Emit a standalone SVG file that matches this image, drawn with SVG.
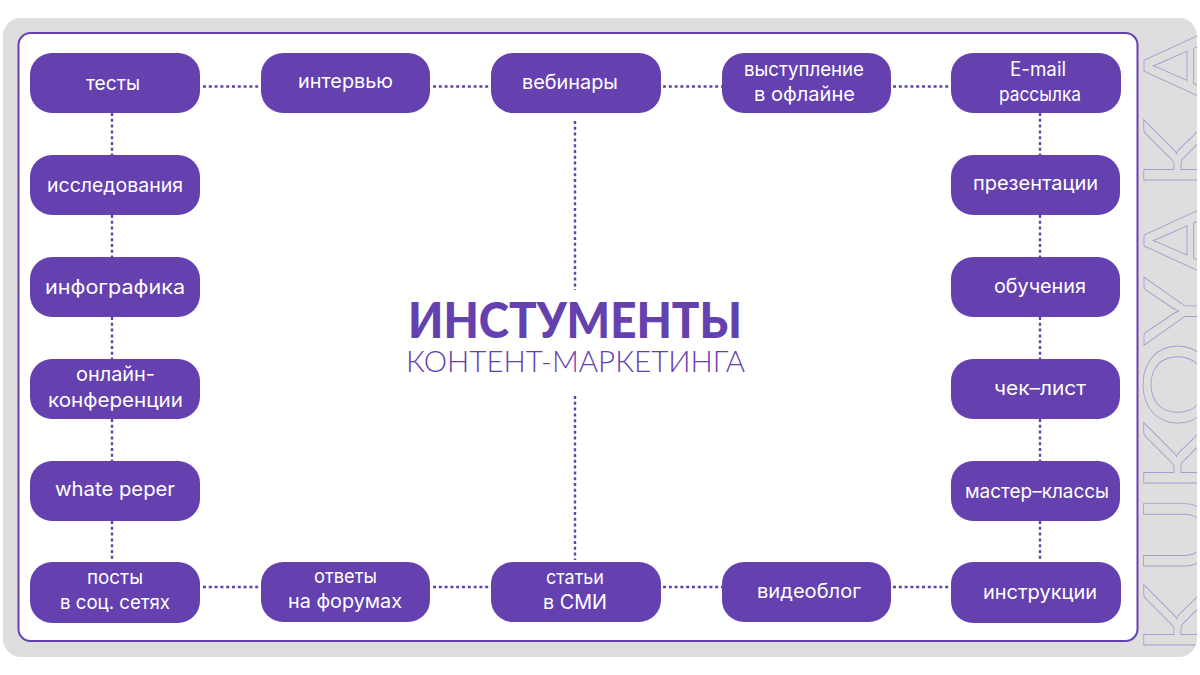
<svg xmlns="http://www.w3.org/2000/svg" width="1200" height="675" viewBox="0 0 1200 675">
<style>
.n{fill:#6441ae}
.t{font-family:"Inter","Noto Sans",sans-serif;font-size:19.500px;fill:#fff;text-anchor:middle;transform:translateY(0.7px)}
.c{fill:none;stroke:#6441ae;stroke-width:2.400;stroke-dasharray:3 2.800}
</style>
<defs><clipPath id="cp"><rect x="3" y="18" width="1194" height="639" rx="18"/></clipPath></defs>
<rect width="1200" height="675" fill="#fff"/>
<g id="panel">
<rect x="3" y="18" width="1194" height="639" rx="18" fill="#dedede"/>
<g clip-path="url(#cp)"><text transform="translate(1212 657) rotate(-90) scale(1.15 1)" x="1.700 71.300 142.600 199 271 330 406 482" y="0" font-family="Lato,sans-serif" font-weight="400" font-size="95" fill="none" stroke="#a99ad0" stroke-width="0.8">KUKOYAKA</text></g>
<rect x="18.500" y="33" width="1119" height="608" rx="12" fill="#fff" stroke="#6441ae" stroke-width="2"/>
</g>
<g id="connectors">
<path class="c" d="M203 86.500H261M433 86.500H491M663 86.500H722M893 86.500H951M203 587H261M433 587H491M663 587H722M893 587H951"/>
<path class="c" d="M112 113V155M112 215V257M112 317V359M112 419V461M112 521V561M1040 113V155M1040 215V257M1040 317V359M1040 419V461M1040 521V561M575 121V290M575 396V560"/>
</g>
<g id="n1"><rect class="n" x="30" y="53" width="170" height="60" rx="22"/><text class="t" x="113" y="89" textLength="54" lengthAdjust="spacingAndGlyphs">тесты</text></g>
<g id="n2"><rect class="n" x="261" y="53" width="169" height="60" rx="22"/><text class="t" x="345.500" y="87" textLength="95" lengthAdjust="spacingAndGlyphs">интервью</text></g>
<g id="n3"><rect class="n" x="491" y="53" width="170" height="60" rx="22"/><text class="t" x="570" y="88" textLength="96" lengthAdjust="spacingAndGlyphs">вебинары</text></g>
<g id="n4"><rect class="n" x="722" y="53" width="169" height="60" rx="22"/><text class="t" x="804" y="75" textLength="120" lengthAdjust="spacingAndGlyphs">выступление</text><text class="t" x="804.500" y="100" textLength="101" lengthAdjust="spacingAndGlyphs">в офлайне</text></g>
<g id="n5"><rect class="n" x="951" y="53" width="170" height="60" rx="22"/><text class="t" x="1038" y="75" textLength="56" lengthAdjust="spacingAndGlyphs">E-mail</text><text class="t" x="1040" y="100" textLength="82" lengthAdjust="spacingAndGlyphs">рассылка</text></g>
<g id="n6"><rect class="n" x="30" y="155" width="170" height="60" rx="22"/><text class="t" x="115" y="191" textLength="136" lengthAdjust="spacingAndGlyphs">исследования</text></g>
<g id="n7"><rect class="n" x="951" y="155" width="169" height="60" rx="22"/><text class="t" x="1035.500" y="189" textLength="125" lengthAdjust="spacingAndGlyphs">презентации</text></g>
<g id="n8"><rect class="n" x="30" y="257" width="170" height="60" rx="22"/><text class="t" x="115" y="293" textLength="140" lengthAdjust="spacingAndGlyphs">инфографика</text></g>
<g id="n9"><rect class="n" x="951" y="257" width="169" height="60" rx="22"/><text class="t" x="1040" y="292" textLength="92" lengthAdjust="spacingAndGlyphs">обучения</text></g>
<g id="n10"><rect class="n" x="30" y="359" width="170" height="60" rx="22"/><text class="t" x="115.500" y="380" textLength="79" lengthAdjust="spacingAndGlyphs">онлайн-</text><text class="t" x="115.500" y="406" textLength="135" lengthAdjust="spacingAndGlyphs">конференции</text></g>
<g id="n11"><rect class="n" x="951" y="359" width="169" height="60" rx="22"/><text class="t" x="1040" y="394" textLength="92" lengthAdjust="spacingAndGlyphs">чек–лист</text></g>
<g id="n12"><rect class="n" x="30" y="461" width="170" height="60" rx="22"/><text class="t" x="115" y="495" textLength="120" lengthAdjust="spacingAndGlyphs">whate peper</text></g>
<g id="n13"><rect class="n" x="951" y="461" width="169" height="60" rx="22"/><text class="t" x="1037" y="497" textLength="144" lengthAdjust="spacingAndGlyphs">мастер–классы</text></g>
<g id="n14"><rect class="n" x="30" y="562" width="170" height="61" rx="22"/><text class="t" x="115" y="583" textLength="56" lengthAdjust="spacingAndGlyphs">посты</text><text class="t" x="115" y="608" textLength="110" lengthAdjust="spacingAndGlyphs">в соц. сетях</text></g>
<g id="n15"><rect class="n" x="261" y="562" width="169" height="60" rx="22"/><text class="t" x="345.500" y="582" textLength="63" lengthAdjust="spacingAndGlyphs">ответы</text><text class="t" x="345" y="607" textLength="114" lengthAdjust="spacingAndGlyphs">на форумах</text></g>
<g id="n16"><rect class="n" x="491" y="562" width="170" height="60" rx="22"/><text class="t" x="575" y="583" textLength="58" lengthAdjust="spacingAndGlyphs">статьи</text><text class="t" x="575" y="608" textLength="64" lengthAdjust="spacingAndGlyphs">в СМИ</text></g>
<g id="n17"><rect class="n" x="722" y="562" width="169" height="60" rx="22"/><text class="t" x="809" y="597" textLength="104" lengthAdjust="spacingAndGlyphs">видеоблог</text></g>
<g id="n18"><rect class="n" x="951" y="562" width="170" height="61" rx="22"/><text class="t" x="1040" y="598" textLength="114" lengthAdjust="spacingAndGlyphs">инструкции</text></g>
<g id="title">
<text x="408" y="338" textLength="334" lengthAdjust="spacingAndGlyphs" font-family="Lato,sans-serif" font-weight="900" font-size="49" fill="#6441ae">ИНСТУМЕНТЫ</text>
<text x="406" y="372" textLength="339" lengthAdjust="spacingAndGlyphs" font-family="Lato,sans-serif" font-weight="300" font-size="29.500" fill="#6441ae">КОНТЕНТ-МАРКЕТИНГА</text>
</g>
</svg>
